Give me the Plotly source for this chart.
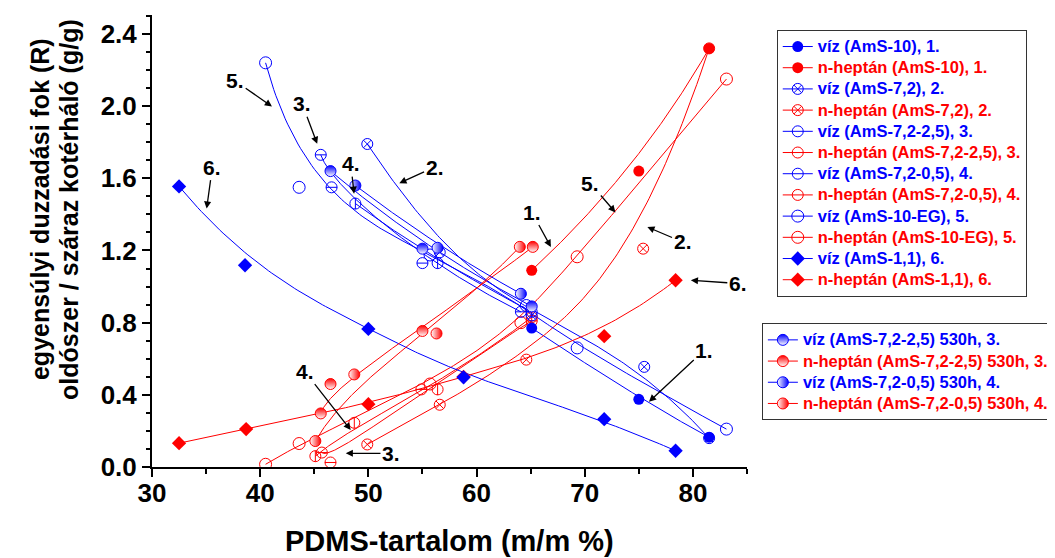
import numpy as np
import plotly.graph_objects as go

BLUE = "#0000FF"
RED = "#FF0000"
FONT = "Liberation Sans, Arial, sans-serif"

# ---------------- data (PDMS content %, swelling ratio g/g) ----------------
viz1_x = [65.1, 75.0, 81.5]
viz1_y = [0.77, 0.375, 0.165]
hep1_x = [65.1, 75.0, 81.5]
hep1_y = [1.09, 1.64, 2.32]

viz2_x = [49.9, 56.6, 65.1, 75.5, 81.5]
viz2_y = [1.79, 1.19, 0.84, 0.555, 0.16]
hep2_x = [49.9, 56.6, 64.6, 75.4, 81.5]
hep2_y = [0.125, 0.345, 0.595, 1.21, 2.32]

viz3_x = [45.6, 46.6, 55.0, 64.1]
viz3_y = [1.73, 1.55, 1.13, 0.86]
hep3_x = [45.7, 46.5, 54.9, 65.1]
hep3_y = [0.08, 0.025, 0.43, 0.81]

viz4_x = [48.8, 56.4, 65.1]
viz4_y = [1.46, 1.13, 0.86]
hep4_x = [45.1, 48.7, 56.4, 65.1]
hep4_y = [0.06, 0.245, 0.43, 0.83]

viz5_x = [40.5, 43.6, 55.7, 64.6, 69.3, 83.1]
viz5_y = [2.24, 1.55, 1.175, 0.895, 0.66, 0.21]
hep5_x = [40.5, 43.6, 55.7, 64.1, 69.3, 83.1]
hep5_y = [0.015, 0.13, 0.46, 0.80, 1.165, 2.15]

viz6_x = [32.5, 38.6, 50.0, 58.8, 71.8, 78.4]
viz6_y = [1.555, 1.118, 0.765, 0.497, 0.265, 0.09]
hep6_x = [32.5, 38.7, 50.0, 58.8, 71.8, 78.4]
hep6_y = [0.132, 0.21, 0.348, 0.50, 0.725, 1.035]

viz3h_x = [46.5, 55.0, 65.1]
viz3h_y = [1.64, 1.21, 0.89]
hep3h_x = [45.6, 46.5, 55.0, 65.2]
hep3h_y = [0.297, 0.46, 0.754, 1.22]

viz4h_x = [48.8, 56.4, 64.1]
viz4h_y = [1.56, 1.215, 0.96]
hep4h_x = [45.1, 48.7, 56.3, 64.0]
hep4h_y = [0.144, 0.513, 0.74, 1.22]

x_ticks = [30, 40, 50, 60, 70, 80]
y_ticks = [0.0, 0.4, 0.8, 1.2, 1.6, 2.0, 2.4]

# ---------------- helpers ----------------
def bspline(xs, ys, num=160):
    P = np.array([xs, ys], float).T
    n = len(P)
    k = min(3, n - 1)
    inner = np.linspace(0, 1, n - k + 1)[1:-1]
    t = np.r_[np.zeros(k + 1), inner, np.ones(k + 1)]
    u = np.linspace(0, 1, num)
    u[-1] = 1 - 1e-12
    N = np.zeros((num, len(t) - 1))
    for i in range(len(t) - 1):
        N[:, i] = (u >= t[i]) & (u < t[i + 1])
    for d in range(1, k + 1):
        Nn = np.zeros((num, len(t) - 1 - d))
        for i in range(len(t) - 1 - d):
            a = t[i + d] - t[i]
            b = t[i + d + 1] - t[i + 1]
            term = np.zeros(num)
            if a > 0:
                term += (u - t[i]) / a * N[:, i]
            if b > 0:
                term += (t[i + d + 1] - u) / b * N[:, i + 1]
            Nn[:, i] = term
        N = Nn
    C = N @ P
    return C[:, 0], C[:, 1]


def marker_style(kind, c):
    if kind == "filled":
        return dict(symbol="circle", size=11, color=c, line=dict(width=0))
    if kind == "x":
        return dict(symbol="circle-x-open", size=11, color=c, line=dict(width=1, color=c))
    if kind in ("hline", "vline", "open"):
        return dict(symbol="circle-open", size=11 if kind != "open" else 12, color=c,
                    line=dict(width=1, color=c))
    if kind == "diamond":
        return dict(symbol="diamond", size=11, color=c, line=dict(width=0))
    if kind == "tophalf":
        return dict(symbol="circle", size=11, color=c,
                    gradient=dict(type="vertical", color="white"), line=dict(width=1, color=c))
    if kind == "righthalf":
        return dict(symbol="circle", size=11, color="white",
                    gradient=dict(type="horizontal", color=c), line=dict(width=1, color=c))


series = [
    ("víz (AmS-10), 1.", viz1_x, viz1_y, BLUE, "filled", "legend"),
    ("n-heptán (AmS-10), 1.", hep1_x, hep1_y, RED, "filled", "legend"),
    ("víz (AmS-7,2), 2.", viz2_x, viz2_y, BLUE, "x", "legend"),
    ("n-heptán (AmS-7,2), 2.", hep2_x, hep2_y, RED, "x", "legend"),
    ("víz (AmS-7,2-2,5), 3.", viz3_x, viz3_y, BLUE, "hline", "legend"),
    ("n-heptán (AmS-7,2-2,5), 3.", hep3_x, hep3_y, RED, "hline", "legend"),
    ("víz (AmS-7,2-0,5), 4.", viz4_x, viz4_y, BLUE, "vline", "legend"),
    ("n-heptán (AmS-7,2-0,5), 4.", hep4_x, hep4_y, RED, "vline", "legend"),
    ("víz (AmS-10-EG), 5.", viz5_x, viz5_y, BLUE, "open", "legend"),
    ("n-heptán (AmS-10-EG), 5.", hep5_x, hep5_y, RED, "open", "legend"),
    ("víz (AmS-1,1), 6.", viz6_x, viz6_y, BLUE, "diamond", "legend"),
    ("n-heptán (AmS-1,1), 6.", hep6_x, hep6_y, RED, "diamond", "legend"),
    ("víz (AmS-7,2-2,5) 530h, 3.", viz3h_x, viz3h_y, BLUE, "tophalf", "legend2"),
    ("n-heptán (AmS-7,2-2,5) 530h, 3.", hep3h_x, hep3h_y, RED, "tophalf", "legend2"),
    ("víz (AmS-7,2-0,5) 530h, 4.", viz4h_x, viz4h_y, BLUE, "righthalf", "legend2"),
    ("n-heptán (AmS-7,2-0,5) 530h, 4.", hep4h_x, hep4h_y, RED, "righthalf", "legend2"),
]

fig = go.Figure()

# curves
for name, xs, ys, c, kind, lg in series:
    cx, cy = bspline(xs, ys)
    fig.add_trace(go.Scatter(x=cx, y=cy, mode="lines", line=dict(color=c, width=1),
                             showlegend=False, hoverinfo="skip"))

# markers: red first, blue on top
for col in (RED, BLUE):
    for name, xs, ys, c, kind, lg in series:
        if c != col:
            continue
        fig.add_trace(go.Scatter(x=xs, y=ys, mode="markers", marker=marker_style(kind, c),
                                 showlegend=False, name=name))
        if kind in ("hline", "vline"):
            fig.add_trace(go.Scatter(
                x=xs, y=ys, mode="markers", showlegend=False, hoverinfo="skip",
                marker=dict(symbol="line-ew" if kind == "hline" else "line-ns", size=8,
                            color=c, line=dict(width=1, color=c))))

# legend entries
for name, xs, ys, c, kind, lg in series:
    fig.add_trace(go.Scatter(
        x=[None], y=[None], mode="lines+markers", line=dict(color=c, width=1),
        marker=marker_style(kind, c), legend=lg,
        name=f"<span style='color:{c};font-size:16.5px'>{name}</span>"))

# annotations (label text, arrow head) in data units
ann = [
    ("5.", 37.69, 2.14, 41.09, 1.998),
    ("3.", 43.88, 2.013, 45.27, 1.791),
    ("4.", 48.37, 1.681, 48.68, 1.515),
    ("6.", 35.58, 1.662, 35.05, 1.432),
    ("2.", 56.12, 1.662, 52.86, 1.573),
    ("1.", 65.10, 1.413, 66.87, 1.219),
    ("5.", 70.52, 1.572, 72.84, 1.411),
    ("2.", 79.04, 1.247, 75.79, 1.330),
    ("6.", 84.15, 1.017, 79.81, 1.035),
    ("1.", 81.05, 0.647, 75.94, 0.361),
    ("4.", 44.10, 0.531, 48.37, 0.205),
    ("3.", 52.09, 0.076, 47.91, 0.076),
]
for txt, tx, ty, hx, hy in ann:
    fig.add_annotation(x=hx, y=hy, ax=tx, ay=ty, xref="x", yref="y", axref="x", ayref="y",
                       text=f"<b>{txt}</b>", showarrow=True, arrowhead=2, arrowsize=1.1,
                       arrowwidth=1.3, arrowcolor="black",
                       font=dict(size=21, color="black", family=FONT))

# axis titles as annotations (paper coordinates)
title_font_y = dict(size=25, color="black", family=FONT, weight="bold")
fig.add_annotation(text="egyensúlyi duzzadási fok (R)", xref="paper", yref="paper",
                   x=-0.188, y=0.571, xanchor="center", yanchor="middle",
                   textangle=-90, showarrow=False, font=title_font_y)
fig.add_annotation(text="oldószer / száraz kotérháló (g/g)", xref="paper", yref="paper",
                   x=-0.1395, y=0.571, xanchor="center", yanchor="middle",
                   textangle=-90, showarrow=False, font=title_font_y)
fig.add_annotation(text="PDMS-tartalom (m/m %)", xref="paper", yref="paper",
                   x=0.5, y=-0.1637, xanchor="center", yanchor="middle", showarrow=False,
                   font=dict(size=29, color="black", family=FONT, weight="bold"))

legend_common = dict(xanchor="left", yanchor="top", bgcolor="white",
                     bordercolor="#333333", borderwidth=1, itemwidth=30, tracegroupgap=0,
                     font=dict(size=14, family=FONT, weight="bold"))

fig.update_layout(
    width=1047, height=550,
    margin=dict(l=144, r=308, t=7, b=91, autoexpand=False),
    plot_bgcolor="white", paper_bgcolor="white",
    font=dict(family=FONT, color="black"),
    legend=dict(x=1.050, y=0.967, **legend_common),
    legend2=dict(x=1.025, y=0.318, **legend_common),
    xaxis=dict(
        range=[30, 85], tickvals=x_ticks, ticktext=[str(v) for v in x_ticks],
        showline=True, linewidth=2, linecolor="black", ticks="outside", ticklen=8,
        tickwidth=2, tickcolor="black", showgrid=False, zeroline=False, automargin=False,
        ticklabelstandoff=-6,
        minor=dict(dtick=5, tick0=30, ticks="outside", ticklen=5, tickwidth=2,
                   tickcolor="black", showgrid=False),
        tickfont=dict(size=26, family=FONT, weight="bold"),
    ),
    yaxis=dict(
        range=[0, 2.505], tickvals=y_ticks, ticktext=[f"{v:.1f}" for v in y_ticks],
        showline=True, linewidth=2, linecolor="black", ticks="outside", ticklen=8,
        tickwidth=2, tickcolor="black", showgrid=False, zeroline=False, automargin=False,
        minor=dict(dtick=0.1, tick0=0, ticks="outside", ticklen=4, tickwidth=2,
                   tickcolor="black", showgrid=False),
        tickfont=dict(size=26, family=FONT, weight="bold"),
    ),
)

fig.write_html("out.html")
